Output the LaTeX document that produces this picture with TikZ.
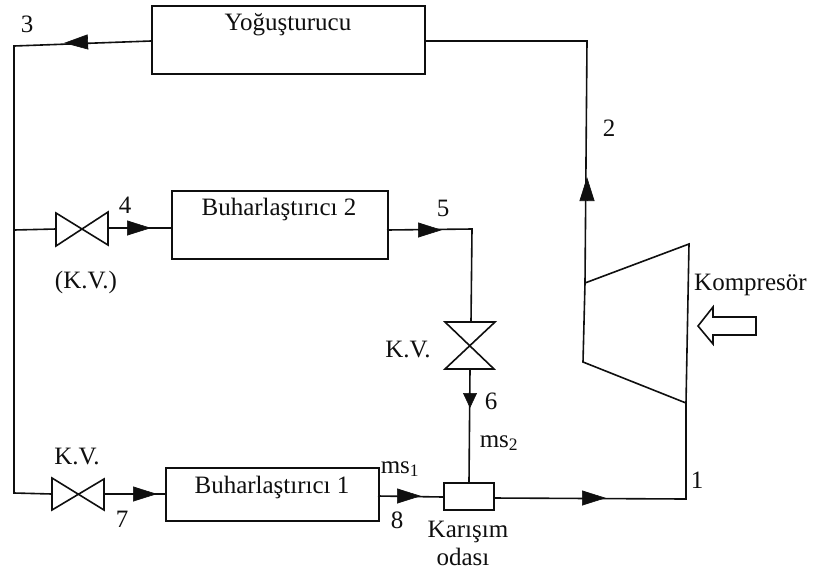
\documentclass[tikz,border=0pt]{standalone}
\usepackage{fontspec}
\setmainfont{Liberation Serif}
\usetikzlibrary{arrows.meta}
\definecolor{ink}{gray}{0.06}
\tikzset{
 pipe/.style={draw=ink,line width=1.6pt,line join=miter},
 box/.style={draw=ink,line width=1.7pt,fill=white,inner sep=0pt,anchor=north west},
 lbl/.style={font=\fontsize{25pt}{27pt}\selectfont,inner sep=0pt,text=ink,anchor=base},
 tipl/.style={draw=ink,line width=0.6pt,-{Triangle[length=24pt,width=15pt,fill=ink]}},
 tips/.style={draw=ink,line width=0.6pt,-{Triangle[length=15pt,width=14pt,fill=ink]}},
 valve/.style={pipe,fill=white}
}
\begin{document}
\begin{tikzpicture}[x=1pt,y=-1pt]
\useasboundingbox (0,0) rectangle (814,574);
% equipment
\node[box,minimum width=273pt,minimum height=68pt] (cond) at (151,5) {};
\node[lbl] (condt) at (288,30) {Yoğuşturucu};
\node[box,minimum width=216pt,minimum height=68pt] (ev2) at (171,190) {};
\node[lbl] (ev2t) at (279,215) {Buharlaştırıcı 2};
\node[box,minimum width=213pt,minimum height=53pt] (ev1) at (165,467) {};
\node[lbl] (ev1t) at (272,493) {Buharlaştırıcı 1};
\node[box,minimum width=50pt,minimum height=27pt] (mix) at (443,482) {};
% junction points
\coordinate (condR) at (425,41);
\coordinate (condL) at (151,41);
\coordinate (c2) at (587,41);
\coordinate (compO) at (585,283);
\coordinate (c3) at (14,46);
\coordinate (jn) at (14,230);
\coordinate (c7) at (14,493);
\coordinate (v2L) at (56,229);
\coordinate (v2R) at (108,228);
\coordinate (ev2L) at (171,228);
\coordinate (ev2R) at (387,230);
\coordinate (c5) at (472,229);
\coordinate (v6T) at (471,322);
\coordinate (v6B) at (470,369);
\coordinate (mixT) at (469,482);
\coordinate (v7L) at (52,494);
\coordinate (v7R) at (104,494);
\coordinate (ev1L) at (165,494);
\coordinate (ev1R) at (378,496);
\coordinate (mixL) at (443,497);
\coordinate (mixR) at (493,498);
\coordinate (c1) at (686,499);
\coordinate (compI) at (686,403);
% pipes
\draw[pipe] (condR) -- (c2) -- (compO);
\draw[pipe] (condL) -- (c3) -- (c7) -- (v7L);
\draw[pipe] (jn) -- (v2L);
\draw[pipe] (v2R) -- (ev2L);
\draw[pipe] (ev2R) -- (c5) -- (v6T);
\draw[pipe] (v6B) -- (mixT);
\draw[pipe] (v7R) -- (ev1L);
\draw[pipe] (ev1R) -- (mixL);
\draw[pipe] (mixR) -- (c1) -- (compI);
% arrowheads
\draw[tipl] (87,42) -- (64,43);
\draw[tipl] (587,200) -- (587,177);
\draw[tipl] (127,228) -- (151,228);
\draw[tipl] (418,230) -- (442,230);
\draw[tips] (470,393) -- (470,408);
\draw[tipl] (130,494) -- (157,494);
\draw[tipl] (397,496) -- (421,496);
\draw[tipl] (582,498) -- (606,498);
% valves
\draw[valve] (56,213) -- (56,246) -- (108,212) -- (108,245) -- cycle;
\draw[valve] (52,478) -- (52,510) -- (104,479) -- (104,510) -- cycle;
\draw[valve] (445,322) -- (495,322) -- (445,369) -- (494,369) -- cycle;
% compressor
\draw[pipe] (585,283) -- (689,244) -- (686,403) -- (583,362) -- cycle;
% hollow arrow
\draw[pipe,fill=white] (756,317) -- (713,317) -- (713,307) -- (698,326) -- (713,344) -- (713,335) -- (756,335) -- cycle;
% labels
\node[lbl] (n3) at (27,32) {3};
\node[lbl] (n2) at (609,136) {2};
\node[lbl] (n4) at (125,213) {4};
\node[lbl] (n5) at (443,216) {5};
\node[lbl] (kv2) at (86,288) {(K.V.)};
\node[lbl,anchor=base west] (komp) at (694,290) {Kompresör};
\node[lbl] (kv6) at (408,357) {K.V.};
\node[lbl] (n6) at (491,409) {6};
\node[lbl] (ms2) at (499,447) {ms\textsubscript{2}};
\node[lbl] (kv7) at (77,464) {K.V.};
\node[lbl] (ms1) at (400,473) {ms\textsubscript{1}};
\node[lbl] (n7) at (122,527) {7};
\node[lbl] (n8) at (397,528) {8};
\node[lbl] (n1) at (697,488) {1};
\node[lbl] (kar) at (468,537) {Karışım};
\node[lbl] (oda) at (463,565) {odası};
\end{tikzpicture}
\end{document}
